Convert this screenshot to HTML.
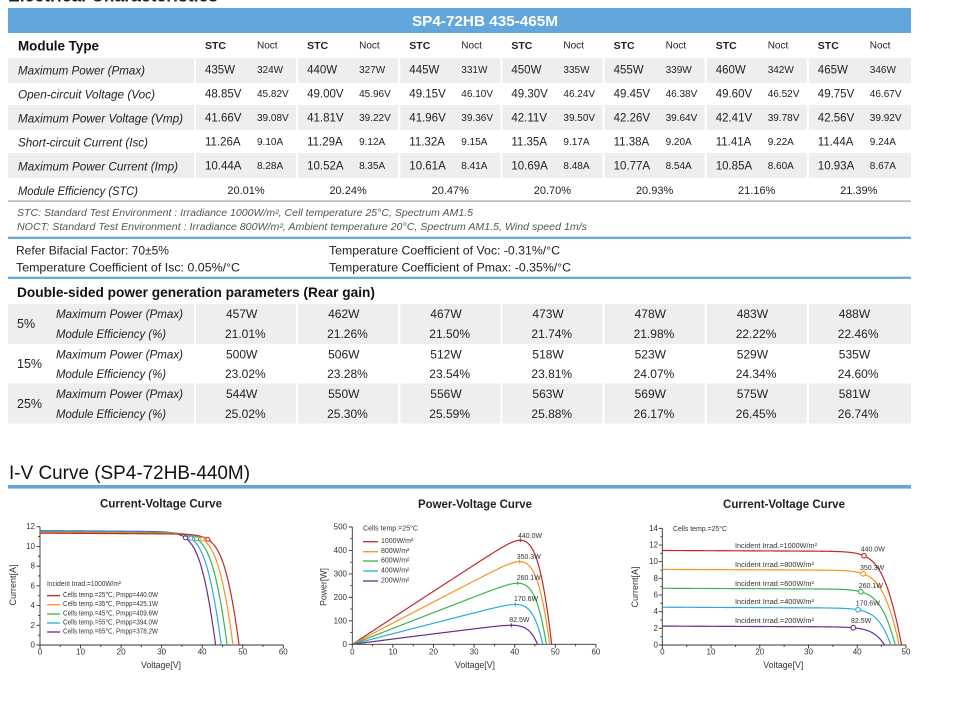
<!DOCTYPE html>
<html><head><meta charset="utf-8">
<style>
html,body{margin:0;padding:0;background:#fff;}
svg{display:block;font-family:"Liberation Sans","DejaVu Sans",sans-serif;}
text{dominant-baseline:central;fill:#222;}
.lbl{font-style:italic;font-size:12px;}
.s{font-size:11.5px;}
.n{font-size:10px;}
.h{font-size:10.5px;font-weight:bold;}
.e{font-size:11px;text-anchor:middle;}
.d{font-size:12px;}
.tk{font-size:8px;fill:#333;}
.tl{font-size:7px;fill:#333;}
.ax{font-size:9px;fill:#333;text-anchor:middle;}
.ct{font-size:11.5px;font-weight:bold;text-anchor:middle;}
</style></head>
<body>
<svg id="s" width="962" height="704" viewBox="0 0 962 704" xmlns="http://www.w3.org/2000/svg">
<text x="8" y="1.5" font-size="18" font-weight="bold" textLength="210" lengthAdjust="spacingAndGlyphs" style="dominant-baseline:alphabetic">Electrical Characteristics</text>
<rect x="8" y="8" width="903" height="25" fill="#62a7db"/>
<text x="485" y="21.5" font-size="15" font-weight="bold" text-anchor="middle" style="fill:#fff" textLength="146" lengthAdjust="spacingAndGlyphs">SP4-72HB 435-465M</text>

<g fill="#eeeeee">
<g id="gr1">
<rect x="8" y="58" width="186" height="25"/>
<rect x="196" y="58" width="100" height="25"/><rect x="298.1" y="58" width="100" height="25"/><rect x="400.3" y="58" width="100" height="25"/><rect x="502.4" y="58" width="100" height="25"/><rect x="604.6" y="58" width="100" height="25"/><rect x="706.7" y="58" width="100" height="25"/><rect x="808.8" y="58" width="102.2" height="25"/>
</g>
<use href="#gr1" y="47"/>
<use href="#gr1" y="95"/>
</g>

<text x="18" y="45.5" font-size="14" font-weight="bold" textLength="81" lengthAdjust="spacingAndGlyphs" style="fill:#111">Module Type</text>
<g transform="translate(0,46)">
<text class="h" x="205">STC</text><text class="n" x="257">Noct</text>
<text class="h" x="307.1">STC</text><text class="n" x="359.1">Noct</text>
<text class="h" x="409.3">STC</text><text class="n" x="461.3">Noct</text>
<text class="h" x="511.4">STC</text><text class="n" x="563.4">Noct</text>
<text class="h" x="613.6">STC</text><text class="n" x="665.6">Noct</text>
<text class="h" x="715.7">STC</text><text class="n" x="767.7">Noct</text>
<text class="h" x="817.8">STC</text><text class="n" x="869.8">Noct</text>
</g>

<g transform="translate(0,70.5)">
<text class="lbl" x="18" textLength="127" lengthAdjust="spacingAndGlyphs">Maximum Power (Pmax)</text>
<text class="s" x="205">435W</text><text class="n" x="257">324W</text>
<text class="s" x="307.1">440W</text><text class="n" x="359.1">327W</text>
<text class="s" x="409.3">445W</text><text class="n" x="461.3">331W</text>
<text class="s" x="511.4">450W</text><text class="n" x="563.4">335W</text>
<text class="s" x="613.6">455W</text><text class="n" x="665.6">339W</text>
<text class="s" x="715.7">460W</text><text class="n" x="767.7">342W</text>
<text class="s" x="817.8">465W</text><text class="n" x="869.8">346W</text>
</g>
<g transform="translate(0,94.5)">
<text class="lbl" x="18" textLength="137" lengthAdjust="spacingAndGlyphs">Open-circuit Voltage (Voc)</text>
<text class="s" x="205">48.85V</text><text class="n" x="257">45.82V</text>
<text class="s" x="307.1">49.00V</text><text class="n" x="359.1">45.96V</text>
<text class="s" x="409.3">49.15V</text><text class="n" x="461.3">46.10V</text>
<text class="s" x="511.4">49.30V</text><text class="n" x="563.4">46.24V</text>
<text class="s" x="613.6">49.45V</text><text class="n" x="665.6">46.38V</text>
<text class="s" x="715.7">49.60V</text><text class="n" x="767.7">46.52V</text>
<text class="s" x="817.8">49.75V</text><text class="n" x="869.8">46.67V</text>
</g>
<g transform="translate(0,118.5)">
<text class="lbl" x="18" textLength="165" lengthAdjust="spacingAndGlyphs">Maximum Power Voltage (Vmp)</text>
<text class="s" x="205">41.66V</text><text class="n" x="257">39.08V</text>
<text class="s" x="307.1">41.81V</text><text class="n" x="359.1">39.22V</text>
<text class="s" x="409.3">41.96V</text><text class="n" x="461.3">39.36V</text>
<text class="s" x="511.4">42.11V</text><text class="n" x="563.4">39.50V</text>
<text class="s" x="613.6">42.26V</text><text class="n" x="665.6">39.64V</text>
<text class="s" x="715.7">42.41V</text><text class="n" x="767.7">39.78V</text>
<text class="s" x="817.8">42.56V</text><text class="n" x="869.8">39.92V</text>
</g>
<g transform="translate(0,142.5)">
<text class="lbl" x="18" textLength="130" lengthAdjust="spacingAndGlyphs">Short-circuit Current (Isc)</text>
<text class="s" x="205">11.26A</text><text class="n" x="257">9.10A</text>
<text class="s" x="307.1">11.29A</text><text class="n" x="359.1">9.12A</text>
<text class="s" x="409.3">11.32A</text><text class="n" x="461.3">9.15A</text>
<text class="s" x="511.4">11.35A</text><text class="n" x="563.4">9.17A</text>
<text class="s" x="613.6">11.38A</text><text class="n" x="665.6">9.20A</text>
<text class="s" x="715.7">11.41A</text><text class="n" x="767.7">9.22A</text>
<text class="s" x="817.8">11.44A</text><text class="n" x="869.8">9.24A</text>
</g>
<g transform="translate(0,166.5)">
<text class="lbl" x="18" textLength="160" lengthAdjust="spacingAndGlyphs">Maximum Power Current (Imp)</text>
<text class="s" x="205">10.44A</text><text class="n" x="257">8.28A</text>
<text class="s" x="307.1">10.52A</text><text class="n" x="359.1">8.35A</text>
<text class="s" x="409.3">10.61A</text><text class="n" x="461.3">8.41A</text>
<text class="s" x="511.4">10.69A</text><text class="n" x="563.4">8.48A</text>
<text class="s" x="613.6">10.77A</text><text class="n" x="665.6">8.54A</text>
<text class="s" x="715.7">10.85A</text><text class="n" x="767.7">8.60A</text>
<text class="s" x="817.8">10.93A</text><text class="n" x="869.8">8.67A</text>
</g>
<g transform="translate(0,191)">
<text class="lbl" x="18" textLength="120" lengthAdjust="spacingAndGlyphs">Module Efficiency (STC)</text>
<text class="e" x="246">20.01%</text>
<text class="e" x="348.1">20.24%</text>
<text class="e" x="450.3">20.47%</text>
<text class="e" x="552.4">20.70%</text>
<text class="e" x="654.6">20.93%</text>
<text class="e" x="756.7">21.16%</text>
<text class="e" x="858.8">21.39%</text>
</g>
<rect x="8" y="200.5" width="903" height="1.2" fill="#a0a0a0"/>

<text x="17" y="213.3" font-size="10" font-style="italic" style="fill:#555" textLength="456" lengthAdjust="spacingAndGlyphs">STC: Standard Test Environment : Irradiance 1000W/m², Cell temperature 25°C, Spectrum AM1.5</text>
<text x="17" y="227.5" font-size="10" font-style="italic" style="fill:#555" textLength="570" lengthAdjust="spacingAndGlyphs">NOCT: Standard Test Environment : Irradiance 800W/m², Ambient temperature 20°C, Spectrum AM1.5, Wind speed 1m/s</text>
<rect x="8" y="236.7" width="903" height="2.2" fill="#62a7db"/>
<text x="16" y="250.3" font-size="12" textLength="153" lengthAdjust="spacingAndGlyphs">Refer Bifacial Factor: 70±5%</text>
<text x="16" y="267.3" font-size="12" textLength="224" lengthAdjust="spacingAndGlyphs">Temperature Coefficient of Isc: 0.05%/°C</text>
<text x="329" y="250.3" font-size="12" textLength="231" lengthAdjust="spacingAndGlyphs">Temperature Coefficient of Voc: -0.31%/°C</text>
<text x="329" y="267.3" font-size="12" textLength="242" lengthAdjust="spacingAndGlyphs">Temperature Coefficient of Pmax: -0.35%/°C</text>
<rect x="8" y="276.7" width="903" height="2.2" fill="#62a7db"/>

<text x="17" y="292" font-size="14" font-weight="bold" textLength="358" lengthAdjust="spacingAndGlyphs" style="fill:#111">Double-sided power generation parameters (Rear gain)</text>

<g fill="#eeeeee">
<g id="gr2">
<rect x="8" y="304" width="186" height="40"/>
<rect x="196" y="304" width="100" height="40"/><rect x="298.1" y="304" width="100" height="40"/><rect x="400.3" y="304" width="100" height="40"/><rect x="502.4" y="304" width="100" height="40"/><rect x="604.6" y="304" width="100" height="40"/><rect x="706.7" y="304" width="100" height="40"/><rect x="808.8" y="304" width="102.2" height="40"/>
</g>
<use href="#gr2" y="79.5"/>
</g>

<text x="17" y="324" font-size="12.5">5%</text>
<text x="17" y="364" font-size="12.5">15%</text>
<text x="17" y="404" font-size="12.5">25%</text>

<g transform="translate(0,314)">
<text class="lbl" x="56" textLength="127" lengthAdjust="spacingAndGlyphs">Maximum Power (Pmax)</text>
<text class="d" x="226">457W</text><text class="d" x="328.1">462W</text><text class="d" x="430.3">467W</text><text class="d" x="532.4">473W</text><text class="d" x="634.6">478W</text><text class="d" x="736.7">483W</text><text class="d" x="838.8">488W</text>
</g>
<g transform="translate(0,334)">
<text class="lbl" x="56" textLength="110" lengthAdjust="spacingAndGlyphs">Module Efficiency (%)</text>
<text class="d" x="225">21.01%</text><text class="d" x="327.1">21.26%</text><text class="d" x="429.3">21.50%</text><text class="d" x="531.4">21.74%</text><text class="d" x="633.6">21.98%</text><text class="d" x="735.7">22.22%</text><text class="d" x="837.8">22.46%</text>
</g>
<g transform="translate(0,354.5)">
<text class="lbl" x="56" textLength="127" lengthAdjust="spacingAndGlyphs">Maximum Power (Pmax)</text>
<text class="d" x="226">500W</text><text class="d" x="328.1">506W</text><text class="d" x="430.3">512W</text><text class="d" x="532.4">518W</text><text class="d" x="634.6">523W</text><text class="d" x="736.7">529W</text><text class="d" x="838.8">535W</text>
</g>
<g transform="translate(0,374)">
<text class="lbl" x="56" textLength="110" lengthAdjust="spacingAndGlyphs">Module Efficiency (%)</text>
<text class="d" x="225">23.02%</text><text class="d" x="327.1">23.28%</text><text class="d" x="429.3">23.54%</text><text class="d" x="531.4">23.81%</text><text class="d" x="633.6">24.07%</text><text class="d" x="735.7">24.34%</text><text class="d" x="837.8">24.60%</text>
</g>
<g transform="translate(0,394)">
<text class="lbl" x="56" textLength="127" lengthAdjust="spacingAndGlyphs">Maximum Power (Pmax)</text>
<text class="d" x="226">544W</text><text class="d" x="328.1">550W</text><text class="d" x="430.3">556W</text><text class="d" x="532.4">563W</text><text class="d" x="634.6">569W</text><text class="d" x="736.7">575W</text><text class="d" x="838.8">581W</text>
</g>
<g transform="translate(0,414)">
<text class="lbl" x="56" textLength="110" lengthAdjust="spacingAndGlyphs">Module Efficiency (%)</text>
<text class="d" x="225">25.02%</text><text class="d" x="327.1">25.30%</text><text class="d" x="429.3">25.59%</text><text class="d" x="531.4">25.88%</text><text class="d" x="633.6">26.17%</text><text class="d" x="735.7">26.45%</text><text class="d" x="837.8">26.74%</text>
</g>

<text x="9" y="479" font-size="19" textLength="241" lengthAdjust="spacingAndGlyphs" style="dominant-baseline:alphabetic;fill:#111">I-V Curve (SP4-72HB-440M)</text>
<rect x="8" y="485" width="903" height="3.6" fill="#62a7db"/>

<text class="ct" x="161" y="504.5" textLength="122" lengthAdjust="spacingAndGlyphs">Current-Voltage Curve</text>
<text class="ct" x="475" y="505" textLength="114" lengthAdjust="spacingAndGlyphs">Power-Voltage Curve</text>
<text class="ct" x="784" y="505" textLength="122" lengthAdjust="spacingAndGlyphs">Current-Voltage Curve</text>

<g id="plots"></g>

<text class="tk" x="35" y="645" text-anchor="end">0</text>
<text class="tk" x="35" y="625.3" text-anchor="end">2</text>
<text class="tk" x="35" y="605.6" text-anchor="end">4</text>
<text class="tk" x="35" y="585.8" text-anchor="end">6</text>
<text class="tk" x="35" y="566.1" text-anchor="end">8</text>
<text class="tk" x="35" y="546.4" text-anchor="end">10</text>
<text class="tk" x="35" y="526.7" text-anchor="end">12</text>
<text class="tk" x="40" y="652" text-anchor="middle">0</text>
<text class="tk" x="80.6" y="652" text-anchor="middle">10</text>
<text class="tk" x="121.1" y="652" text-anchor="middle">20</text>
<text class="tk" x="161.7" y="652" text-anchor="middle">30</text>
<text class="tk" x="202.2" y="652" text-anchor="middle">40</text>
<text class="tk" x="242.8" y="652" text-anchor="middle">50</text>
<text class="tk" x="283.3" y="652" text-anchor="middle">60</text>
<text class="ax" x="161" y="665" textLength="40" lengthAdjust="spacingAndGlyphs">Voltage[V]</text>
<text class="ax" x="0" y="0" transform="translate(13,585) rotate(-90)" textLength="41" lengthAdjust="spacingAndGlyphs">Current[A]</text>
<text class="tl" x="47" y="584.5" font-size="6.5" textLength="74" lengthAdjust="spacingAndGlyphs">Incident Irrad.=1000W/m²</text>
<text class="tl" x="63" y="595.7" textLength="95" lengthAdjust="spacingAndGlyphs">Cells temp.=25℃, Pmpp=440.0W</text>
<text class="tl" x="63" y="604.7" textLength="95" lengthAdjust="spacingAndGlyphs">Cells temp.=35℃, Pmpp=425.1W</text>
<text class="tl" x="63" y="614" textLength="95" lengthAdjust="spacingAndGlyphs">Cells temp.=45℃, Pmpp=409.6W</text>
<text class="tl" x="63" y="623" textLength="95" lengthAdjust="spacingAndGlyphs">Cells temp.=55℃, Pmpp=394.0W</text>
<text class="tl" x="63" y="632" textLength="95" lengthAdjust="spacingAndGlyphs">Cells temp.=65℃, Pmpp=378.2W</text>
<g stroke-width="1.3">
<line x1="47" x2="60" y1="595.7" y2="595.7" stroke="#c1272d"/>
<line x1="47" x2="60" y1="604.7" y2="604.7" stroke="#f7931e"/>
<line x1="47" x2="60" y1="614" y2="614" stroke="#39b54a"/>
<line x1="47" x2="60" y1="623" y2="623" stroke="#29abe2"/>
<line x1="47" x2="60" y1="632" y2="632" stroke="#662d91"/>
</g>

<text class="tk" x="347" y="644.3" text-anchor="end">0</text>
<text class="tk" x="347" y="620.8" text-anchor="end">100</text>
<text class="tk" x="347" y="597.4" text-anchor="end">200</text>
<text class="tk" x="347" y="573.9" text-anchor="end">300</text>
<text class="tk" x="347" y="550.5" text-anchor="end">400</text>
<text class="tk" x="347" y="527" text-anchor="end">500</text>
<text class="tk" x="352.3" y="652" text-anchor="middle">0</text>
<text class="tk" x="392.9" y="652" text-anchor="middle">10</text>
<text class="tk" x="433.5" y="652" text-anchor="middle">20</text>
<text class="tk" x="474.1" y="652" text-anchor="middle">30</text>
<text class="tk" x="514.7" y="652" text-anchor="middle">40</text>
<text class="tk" x="555.3" y="652" text-anchor="middle">50</text>
<text class="tk" x="595.9" y="652" text-anchor="middle">60</text>
<text class="ax" x="475" y="665" textLength="40" lengthAdjust="spacingAndGlyphs">Voltage[V]</text>
<text class="ax" x="0" y="0" transform="translate(323.5,587) rotate(-90)" textLength="38" lengthAdjust="spacingAndGlyphs">Power[W]</text>
<text class="tl" x="363" y="529" textLength="55" lengthAdjust="spacingAndGlyphs">Cells temp.=25°C</text>
<text class="tl" x="381" y="541.7">1000W/m²</text>
<text class="tl" x="381" y="551.7">800W/m²</text>
<text class="tl" x="381" y="561">600W/m²</text>
<text class="tl" x="381" y="571">400W/m²</text>
<text class="tl" x="381" y="581">200W/m²</text>
<g stroke-width="1.3">
<line x1="363" x2="378" y1="541.7" y2="541.7" stroke="#c1272d"/>
<line x1="363" x2="378" y1="551.7" y2="551.7" stroke="#f7931e"/>
<line x1="363" x2="378" y1="561" y2="561" stroke="#39b54a"/>
<line x1="363" x2="378" y1="571" y2="571" stroke="#29abe2"/>
<line x1="363" x2="378" y1="581" y2="581" stroke="#662d91"/>
</g>
<text class="tl" x="518" y="536.7" font-size="7.5">440.0W</text>
<text class="tl" x="516.7" y="557.7" font-size="7.5">350.3W</text>
<text class="tl" x="516.7" y="578.7" font-size="7.5">260.1W</text>
<text class="tl" x="514" y="599.7" font-size="7.5">170.6W</text>
<text class="tl" x="509.3" y="620.7" font-size="7.5">82.5W</text>

<text class="tk" x="658" y="645" text-anchor="end">0</text>
<text class="tk" x="658" y="628.3" text-anchor="end">2</text>
<text class="tk" x="658" y="611.7" text-anchor="end">4</text>
<text class="tk" x="658" y="595" text-anchor="end">6</text>
<text class="tk" x="658" y="578.4" text-anchor="end">8</text>
<text class="tk" x="658" y="561.7" text-anchor="end">10</text>
<text class="tk" x="658" y="545" text-anchor="end">12</text>
<text class="tk" x="658" y="528.4" text-anchor="end">14</text>
<text class="tk" x="662.3" y="652" text-anchor="middle">0</text>
<text class="tk" x="711" y="652" text-anchor="middle">10</text>
<text class="tk" x="759.8" y="652" text-anchor="middle">20</text>
<text class="tk" x="808.5" y="652" text-anchor="middle">30</text>
<text class="tk" x="857.2" y="652" text-anchor="middle">40</text>
<text class="tk" x="906" y="652" text-anchor="middle">50</text>
<text class="ax" x="783.3" y="665" textLength="40" lengthAdjust="spacingAndGlyphs">Voltage[V]</text>
<text class="ax" x="0" y="0" transform="translate(635,587) rotate(-90)" textLength="41" lengthAdjust="spacingAndGlyphs">Current[A]</text>
<text class="tl" x="673" y="529.3" textLength="54" lengthAdjust="spacingAndGlyphs">Cells temp.=25°C</text>
<text class="tl" x="735" y="546.7" textLength="82" lengthAdjust="spacingAndGlyphs">Incident Irrad.=1000W/m²</text>
<text class="tl" x="735" y="565.3" textLength="79" lengthAdjust="spacingAndGlyphs">Incident Irrad.=800W/m²</text>
<text class="tl" x="735" y="584.3" textLength="79" lengthAdjust="spacingAndGlyphs">Incident Irrad.=600W/m²</text>
<text class="tl" x="735" y="602.7" textLength="79" lengthAdjust="spacingAndGlyphs">Incident Irrad.=400W/m²</text>
<text class="tl" x="735" y="621.3" textLength="79" lengthAdjust="spacingAndGlyphs">Incident Irrad.=200W/m²</text>
<text class="tl" x="860.7" y="550">440.0W</text>
<text class="tl" x="860" y="568.7">350.3W</text>
<text class="tl" x="858.7" y="586.7">260.1W</text>
<text class="tl" x="855.7" y="604">170.6W</text>
<text class="tl" x="851" y="621.3">82.5W</text>
</svg>

<script>
(function(){
var NS='http://www.w3.org/2000/svg';
var g=document.getElementById('plots');
var C=['#c1272d','#f7931e','#39b54a','#29abe2','#662d91'];
function el(n,a){var e=document.createElementNS(NS,n);for(var k in a)e.setAttribute(k,a[k]);g.appendChild(e);return e;}
function model(Iph,Voc){
  var a=2.0,Rs=0.15,Rsh=400,I0e=Iph-Voc/Rsh,p=[];
  for(var Vd=0;Vd<=Voc+1e-9;Vd+=0.05){
    var I=Iph-I0e*Math.exp((Vd-Voc)/a)-Vd/Rsh, V=Vd-I*Rs;
    if(V>=0)p.push([V,Math.max(I,0)]);
  }
  p.unshift([0,p[0][1]]);p.push([Voc,0]);return p;
}
function mpp(p){var b=p[0],bp=0;for(var i=0;i<p.length;i++){var P=p[i][0]*p[i][1];if(P>bp){bp=P;b=p[i];}}return b;}
function axes(ox,oy,sx,sy,xmax,xmaj,ymax,ymaj){
  var d='M'+ox+' '+(oy-ymax*sy).toFixed(2)+'V'+oy+'H'+(ox+xmax*sx).toFixed(2);
  for(var x=0;x<=xmax+1e-6;x+=xmaj/2){var px=(ox+x*sx).toFixed(2);var L=(Math.round(x/xmaj*2)%2===0)?3.5:2;d+='M'+px+' '+oy+'v'+L;}
  for(var y=0;y<=ymax+1e-6;y+=ymaj/2){var py=(oy-y*sy).toFixed(2);var L=(Math.round(y/ymaj*2)%2===0)?3.5:2;d+='M'+ox+' '+py+'h'+(-L);}
  el('path',{d:d,stroke:'#333','stroke-width':'0.9',fill:'none'});
}
function line(pts,ox,oy,sx,sy,col,pw){
  var d='';for(var i=0;i<pts.length;i++){var v=pts[i][0],y=pw?pts[i][0]*pts[i][1]:pts[i][1];d+=(i?'L':'M')+(ox+v*sx).toFixed(2)+' '+(oy-y*sy).toFixed(2);}
  el('path',{d:d,stroke:col,'stroke-width':'1.2',fill:'none','stroke-linejoin':'round'});
}
axes(40,645,4.055,9.86,60,10,12,2);
var voc1=[49.1,47.6,46.15,44.7,43.3];
for(var i=4;i>=0;i--){var p=model(11.35+0.06*i,voc1[i]);line(p,40,645,4.055,9.86,C[i]);}
for(var i=4;i>=0;i--){var p=model(11.35+0.06*i,voc1[i]);var m=mpp(p);el('circle',{cx:(40+m[0]*4.055).toFixed(2),cy:(645-m[1]*9.86).toFixed(2),r:'2',fill:'#fff',stroke:C[i],'stroke-width':'1'});}
var iph=[11.35,9.08,6.81,4.54,2.27],voc=[49.1,48.6,47.8,46.9,45.6];
axes(352.3,644.3,4.06,0.2346,60,10,500,100);
axes(662.3,645,4.873,8.33,50,10,14,2);
for(var i=0;i<5;i++){
  var p=model(iph[i],voc[i]),m=mpp(p);
  line(p,352.3,644.3,4.06,0.2346,C[i],true);
  var mx=352.3+m[0]*4.06,my=644.3-m[0]*m[1]*0.2346;
  el('path',{d:'M'+(mx-2)+' '+my+'h4M'+mx+' '+(my-2)+'v4',stroke:C[i],'stroke-width':'1'});
  line(p,662.3,645,4.873,8.33,C[i],false);
  el('circle',{cx:(662.3+m[0]*4.873).toFixed(2),cy:(645-m[1]*8.33).toFixed(2),r:'2.3',fill:'#fff',stroke:C[i],'stroke-width':'1.1'});
}
})();
</script>
</body></html>
